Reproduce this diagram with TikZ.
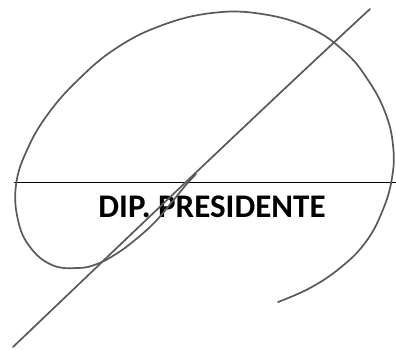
\documentclass[tikz,border=0pt]{standalone}
\usepackage{fontspec}
\setmainfont{Carlito}
\tikzset{
  pen/.style={draw=black!65, line width=1.7pt, line cap=round, line join=round},
  rule/.style={draw=black, line width=0.9pt},
  title/.style={font=\bfseries\fontsize{33}{38}\selectfont, inner sep=0pt}
}

\begin{document}
\begin{tikzpicture}[x=1pt, y=-1pt]
  \useasboundingbox (0,0) rectangle (396,350);
  % Nodes
  \coordinate (ruleL) at (14,182);
  \coordinate (ruleR) at (396,182);
  \node[title, anchor=base] (name) at (212,217) {DIP. PRESIDENTE};
  \coordinate (slashLow) at (13,347);
  \coordinate (slashHigh) at (370,9);

  \draw[rule] (ruleL) -- (ruleR);

  % signature loop
  \draw[pen] plot[smooth, tension=0.7] coordinates {
    (278,302) (310,288) (340,268) (365,243) (382,212) (392,178) (393,145)
    (385,112) (368,80) (345,52) (310,28) (262,14) (212,13) (160,26)
    (115,49) (78,80) (48,114) (27,150) (16,185) (18,220) (30,247)
    (52,265) (78,268) (97,264) (116,254) (135,240) (155,222) (172,202)
    (185,186) (196,174)};
  % slash
  \draw[pen] (slashLow) .. controls (120,245) and (250,120) .. (slashHigh);
\end{tikzpicture}
\end{document}
